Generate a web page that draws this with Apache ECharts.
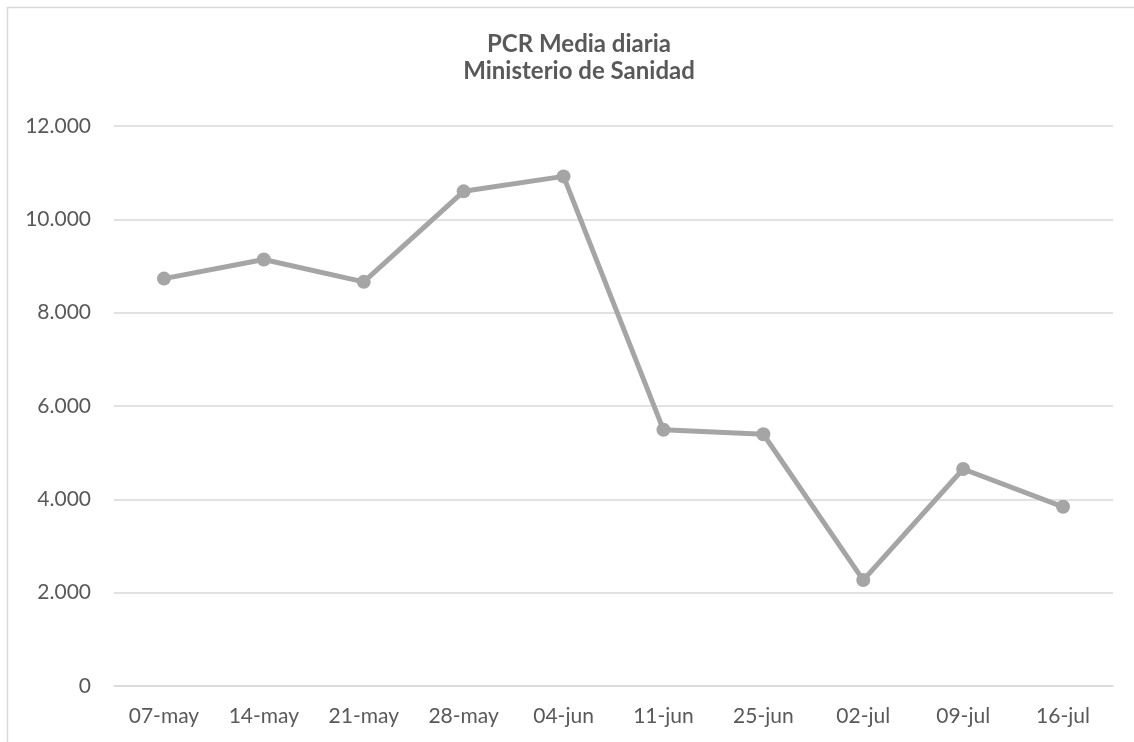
<!DOCTYPE html>
<html>
<head>
<meta charset="utf-8">
<script src="https://cdn.jsdelivr.net/npm/echarts@6/dist/echarts.min.js"></script>
<style>
html,body{margin:0;padding:0;background:#fff;}
#chart{width:1134px;height:742px;}
</style>
</head>
<body>
<div id="chart"></div>
<script>
const categories = ['07-may','14-may','21-may','28-may','04-jun','11-jun','25-jun','02-jul','09-jul','16-jul'];
const pcrValues = [8730, 9140, 8660, 10600, 10920, 5490, 5395, 2270, 4650, 3840];
const titleLines = ['PCR Media diaria', 'Ministerio de Sanidad'];

const chart = echarts.init(document.getElementById('chart'));
const fontFam = 'Lato, "Open Sans", sans-serif';
chart.setOption({
  animation: false,
  backgroundColor: '#fff',
  graphic: [{
    type: 'rect',
    shape: {x: 7.5, y: 7.5, width: 1140, height: 760},
    style: {fill: 'none', stroke: '#d9d9d9', lineWidth: 1.5},
    silent: true
  }],
  title: {
    text: titleLines.join('\n'),
    left: 574,
    textAlign: 'center',
    top: 26,
    textStyle: {fontFamily: fontFam, fontSize: 24, fontWeight: 'bold', color: '#595959', lineHeight: 27}
  },
  grid: {left: 114, right: 21, top: 126, bottom: 56, containLabel: false},
  xAxis: {
    type: 'category',
    data: categories,
    boundaryGap: true,
    axisLine: {show: true, lineStyle: {color: '#d9d9d9', width: 1.5}},
    axisTick: {show: false},
    axisLabel: {fontFamily: fontFam, fontSize: 21, color: '#595959', margin: 20}
  },
  yAxis: {
    type: 'value',
    min: 0, max: 12000, interval: 2000,
    axisLine: {show: false},
    axisTick: {show: false},
    splitLine: {lineStyle: {color: '#d9d9d9', width: 1.5}},
    axisLabel: {
      fontFamily: fontFam, fontSize: 21, color: '#595959', margin: 23,
      formatter: v => String(v).replace(/\B(?=(\d{3})+(?!\d))/g, '.')
    }
  },
  series: [{
    type: 'line',
    data: pcrValues,
    symbol: 'circle',
    symbolSize: 14,
    lineStyle: {color: '#a5a5a5', width: 5},
    itemStyle: {color: '#a5a5a5'}
  }]
});
</script>
</body>
</html>
